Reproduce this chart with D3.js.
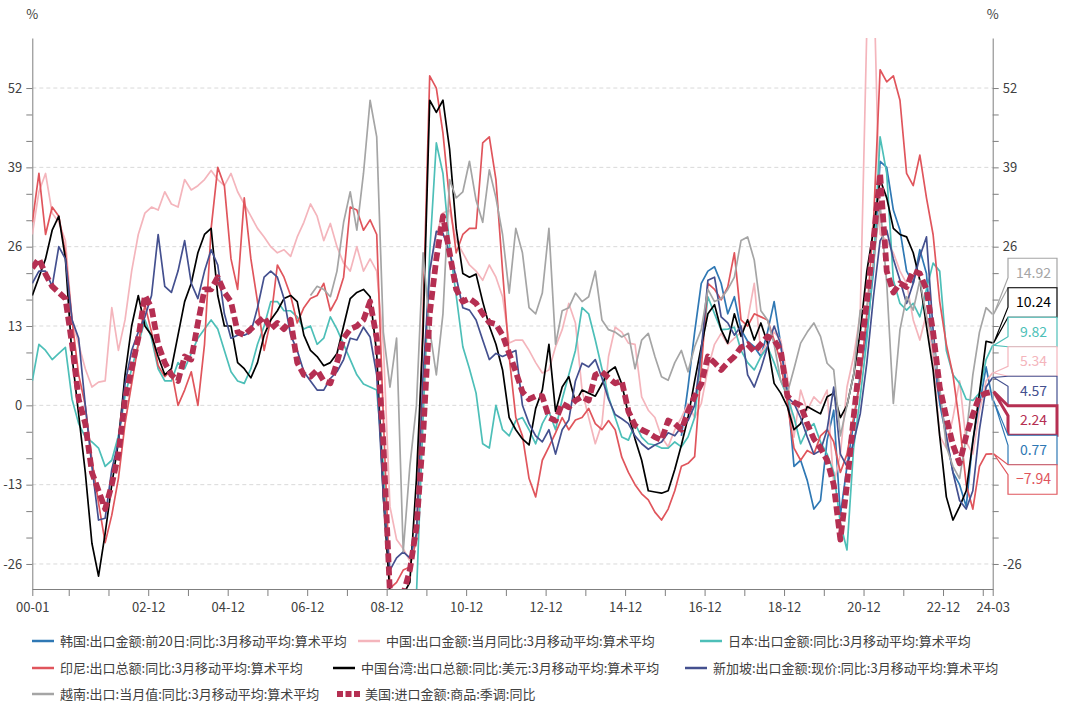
<!DOCTYPE html>
<html>
<head>
<meta charset="utf-8">
<script src="https://cdn.jsdelivr.net/npm/d3@7"></script>
<style>
  body { margin: 0; background: #fff; }
  svg { display: block; font-family: "Noto Sans CJK SC", "Noto Sans", sans-serif; }
</style>
</head>
<body>
<div id="chart"></div>
<script>
// ---- data: one value every 2 months (Jan, Mar, May, Jul, Sep, Nov), last point 2024-03 ----
const korea = [ // starts 2016-05
  -5, 3, 12, 20,
  22, 22.7, 20, 15, 17.8, 12.4,
  10.5, 9.6, 8, 12, 17, 10,
  2.5, -10, -9, -12.3, -17, -15.6,
  -5.7, -0.8, -18, -10, -3, 5,
  12, 22, 40, 39, 32, 28.7,
  22, 20, 25.5, 21.6, 8, 0.3,
  -5.2, -11, -13, -16.6, -5.7, 0,
  6.3, 0.77
];
const china = [
  28, 35, 38, 31.5, 30, 27,
  14, 10, 6, 3, 3.8, 4,
  16, 9, 14, 22, 28, 31.5,
  32.5, 32, 35, 33, 32.5, 37,
  35.3, 36, 37, 38.5, 37, 36,
  38, 35, 33, 31, 29, 27.6,
  26, 25, 25.5, 24.4, 27.6, 30,
  33, 31, 27, 29.8, 26, 23.3,
  22, 26, 22, 24, 22, 10,
  -16.6, -22, -23.5, -25.5, -22, -2,
  22, 28, 31.5, 32, 27, 25,
  23, 22, 20.5, 23, 21, 17.8,
  10.2, 10.7, 10.7, 9, 7, 5.3,
  5.8, 9.6, 12.4, 16.7, 13.5, 2.5,
  -2, -6.3, -3, 8, 12.8, 12,
  10.2, 10, 1.4, -0.8, -2, -5.2,
  -6.8, -4, -2, 0.3, -2, 0.3,
  6, 10, 11.8, 10, 11, 12,
  14, 20, 8.5, 10.2, 12, 10.7,
  4.7, -5.2, 2.5, -0.8, 1.4, 0.3,
  2.5, -13, -8, 3, 8, 15,
  62, 72, 28, 27, 25, 22,
  20, 14, 10.7, 15, 8, -5,
  -7, -2, 4, -6, -8, -1,
  4, 5.34
];
const japan = [
  4, 10, 9, 7.5, 8.5, 9.5,
  1, -3, -5.2, -6, -7, -10,
  -9, -5, 1.5, 6, 10, 14,
  11, 6, 4, 4, 7, 6,
  8.5, 11, 12.5, 14, 12.5, 9,
  5.5, 4, 3.6, 6, 10, 13,
  17, 17, 15.5, 15.5, 14.5, 12.5,
  13, 10, 11, 14.5, 12.5, 10,
  7.5, 5, 3.5, 3, 2.5, -10,
  -31, -31, -31, -31, -31, -2,
  25, 43, 38, 26, 18, 9.6,
  6, 2, -6.3, -7, 0, -4,
  -5, -2.5, -2, -4, -6.3, -3,
  -1, -4, 1, 5, 9, 16,
  15, 10.7, 6, 1.4, -2, -5.2,
  -5.7, -3, -5.2, -6.3, -6.5, -7,
  -7, -6, -6.8, -5.2, -2, 8,
  17.8, 15, 12.4, 12.5, 12.8, 9,
  7, 5.8, 8, 9.6, 7, 4,
  1.4, -2, -6.3, -4, -3, -6,
  -8, -11, -19.3, -23.7, -7, 1.4,
  10.7, 23.3, 44, 38, 20.5, 16.7,
  15.6, 16.7, 14.5, 19, 23.3, 22,
  9, 5, 3.6, 1, 0.8, 2,
  7.5, 9.82
];
const indonesia = [
  30, 38, 28, 32.5, 31, 25,
  14, 5, 0, -9, -16, -22.5,
  -18, -12, -3, 3.5, 10, 16.5,
  12, 6.5, 4.7, 5.8, 0, 2.5,
  5.5, 0, 10, 29, 39, 36,
  24, 19, 34, 24, 17, 9,
  14, 23, 21, 18, 13.5, 16,
  17.5, 18, 20, 15.5, 17.5, 21,
  32.5, 32, 28.7, 30.4, 28, -2,
  -30, -29, -27, -26.5, -22, 15,
  54, 52, 44.6, 33.6, 25, 28,
  29, 29, 43, 44, 37, 22,
  8, -2, -5, -12, -15, -9,
  -6.8, -4.5, -2, -4, -2.4, -2,
  -0.5, -3, -4, -2.5, -4, -8.5,
  -11, -13, -14.5, -15.5, -17.5, -18.8,
  -17, -14, -10, -9.5, -8.4, 6,
  20, 19, 17.3, 19.4, 25, 14,
  13, 15, 14.5, 14, 10.7, 7,
  0.3, -7, -9, -7.4, -8, -5,
  -4, -6, -11, -8, -2, 4,
  15, 30, 55, 53, 54, 50,
  38, 36, 41, 34, 28, 17,
  10, 5, -3, -13, -17, -10,
  -8, -7.94
];
const taiwan = [
  18, 21, 24, 28.7, 31, 24,
  8, -1.5, -11, -22.6, -28, -21,
  -13, -6, 5, 13, 18, 13,
  11.5, 8, 5, 6, 11.5, 17,
  20, 25, 28, 29, 18, 13,
  13, 7, 6, 4.5, 7, 11.5,
  14, 15.5, 17.5, 18, 17, 11.5,
  9, 8, 6.5, 7, 8.5, 13,
  17.5, 18.5, 19, 17.8, 8.5, -15,
  -31, -31, -31, -29, -12, 12,
  50, 48, 50, 42, 29, 21.6,
  21, 21.5, 17, 13, 10, 5.8,
  -2, -4, -5.5, -6.5, -0.5, 2.5,
  10, -1, 3, 4.7, 0.5, 2.5,
  2, 1.5, 3.5, 5.5, 6.3, 3.5,
  -1.5, -5.5, -9, -14, -14.2, -14.4,
  -14, -10.5, -6.5, -2, 4, 9.6,
  15, 16.5, 12.4, 10.2, 15, 11.3,
  14, 10.7, 13.5, 10.2, 3.6, 2,
  -0.2, -4, -3, -0.2, -0.8, -1.4,
  1.4, 2, -2, 0, 5, 12,
  22, 28.7, 37, 34, 29, 28,
  27.6, 25, 20.5, 13, 5.8, -5,
  -15, -18.8, -16.6, -14, -6, 2,
  10.5, 10.24
];
const singapore = [
  20, 22, 22, 19.5, 26, 24,
  14, 11, 0, -10, -18.8, -18.5,
  -10.5, -6, 3.5, 9, 12, 14.5,
  18, 28, 19.5, 18.5, 22, 27,
  20, 17.5, 22, 25.5, 23, 15,
  11, 11.5, 11.5, 12, 16, 21,
  22, 21, 17.5, 11.5, 9, 5.5,
  4, 2.5, 2.5, 4.4, 5.5, 7.5,
  11, 10.7, 12.8, 11.2, 5, -15,
  -27, -25, -24, -25, -21, 5,
  22, 28.5, 28.2, 25, 21, 16,
  15.6, 14, 10.7, 7.5, 8.5, 8,
  8.5, 9, 0, -3, -5, -6,
  -4, -8, -4, -2.4, 4, 6.9,
  6.3, 7.5, 4.5, 1, -1.5, -2.2,
  -3, -5, -6.3, -7.2, -6.5, -6,
  -4.5, -5, -3.5, -2.5, 0, 9,
  20.5, 21, 14.5, 13.5, 11.5, 13,
  5, 3, 6, 9.6, 13, 10,
  1.4, 0.3, -2, -5.2, -8, -7.4,
  -4, 3, -8, -10, -6, -1.4,
  7, 17.8, 27, 28.7, 24, 20.5,
  16.7, 20, 24.4, 27.6, 12.4, 1.4,
  -5, -11, -15.6, -17, -14, -4,
  3, 4.57
];
const vietnam = [ // starts 2007-01
  18, 19.5, 19, 17.8, 22, 30,
  35, 28.7, 38, 50, 44, 12,
  3, 11, -24, -10, 0, 25,
  12.4, 5, 15, 37, 34, 35,
  40, 33.6, 30, 38.6, 34, 28,
  18.4, 29, 25, 16, 15, 18.4,
  29, 10, 15.5, 16, 18.4, 17,
  17.8, 22, 14, 12.4, 12, 11.2,
  11.8, 6, 10.7, 11.8, 8, 4.7,
  4.1, 7, 9, 5.5, 9.6, 12.4,
  19, 17, 17.5, 19, 21, 27,
  27.6, 23.8, 15.5, 14, 10, 4,
  2, 6, 10.2, 12, 13.5, 11.3,
  6.9, 5.8, -5, 0, 5, 15.6,
  16.2, 23.3, 33, 20, 0.3, 12.4,
  17.8, 15.6, 20.5, 14.5, 10.7, 3,
  -6.8, -10, -12, -5, 5, 12,
  16, 14.92
];
const usImports = [
  22.5, 24, 21.5, 19.5, 18.5, 17.5,
  10, 1, -3, -11, -14, -17,
  -13, -8, 1, 6, 11, 18,
  16, 10, 7, 5, 4, 8,
  7.5, 13.5, 19, 19, 21, 18.5,
  17, 12, 11.5, 12.5, 13.5, 14.5,
  12.5, 13.5, 12.5, 14, 7, 5,
  4.7, 5.8, 4, 3.6, 7, 11,
  12.5, 13, 14, 17, 11, -6,
  -31, -31, -31, -27, -20, -5,
  15, 24, 31, 25, 19, 17,
  17.5, 16.7, 15, 13.6, 13.3, 11.5,
  8.5, 5.5, 2.2, 1, 1.5, 1.5,
  -2, -2.5, 0.3, -0.3, 0.8, 1.4,
  0.8, 5, 5.5, 4.5, 3.6, 4,
  -1, -3.3, -4, -4.5, -5.2, -5.7,
  -2.5, -3, -4, -1, 1.5, 3.5,
  8, 7, 5.8, 7, 8, 9.5,
  10, 8.8, 10, 11.3, 10.7, 9,
  1.5, 0.5, 0, -3, -5.5, -7,
  -9, -13, -22, -13, -2, 8,
  17, 27, 38, 22, 18.5, 20,
  19.4, 22, 21.6, 19, 12, 3,
  -2, -6.5, -9.5, -5, -1.5, 1.5,
  2, 2.24
];

const seriesNames = [
  "韩国:出口金额:前20日:同比:3月移动平均:算术平均",
  "中国:出口金额:当月同比:3月移动平均:算术平均",
  "日本:出口金额:同比:3月移动平均:算术平均",
  "印尼:出口总额:同比:3月移动平均:算术平均",
  "中国台湾:出口总额:同比:美元:3月移动平均:算术平均",
  "新加坡:出口金额:现价:同比:3月移动平均:算术平均",
  "越南:出口:当月值:同比:3月移动平均:算术平均",
  "美国:进口金额:商品:季调:同比"
];
const seriesStarts = ["2016-05", "2000-01", "2000-01", "2000-01", "2000-01", "2000-01", "2007-01", "2000-01"];
const seriesValues = [korea, china, japan, indonesia, taiwan, singapore, vietnam, usImports];
const seriesColors = ["#2f78b4", "#f4b5bc", "#4dbfb8", "#e0555c", "#000000", "#44508f", "#a5a5a5", "#b52f52"];

const yMajorTicks = [-26, -13, 0, 13, 26, 39, 52];
const xTickLabels = ["00-01", "02-12", "04-12", "06-12", "08-12", "10-12", "12-12", "14-12", "16-12", "18-12", "20-12", "22-12", "24-03"];
const xYearEnds = ["00-12", "01-12", "02-12", "03-12", "04-12", "05-12", "06-12", "07-12", "08-12", "09-12", "10-12", "11-12",
                   "12-12", "13-12", "14-12", "15-12", "16-12", "17-12", "18-12", "19-12", "20-12", "21-12", "22-12", "23-12"];

// ---- helpers ----
const W = 1067, H = 704;
const monthIdx = s => { const [a, b] = s.split("-").map(Number); return (a < 100 ? a : a - 2000) * 12 + b - 1; };
const STEP = 2;
const lastMonth = monthIdx("24-03");

const series = seriesNames.map((name, i) => {
  const s0 = monthIdx(seriesStarts[i]);
  return {
    name, color: seriesColors[i],
    points: seriesValues[i].map((v, j) => ({m: s0 + j * STEP, v}))
  };
});

const x = d3.scaleLinear().domain([0, lastMonth]).range([32.3, 992.7]);
const y = d3.scaleLinear().domain([-30.1, 60.2]).range([589, 38]);

const svg = d3.select("#chart").append("svg").attr("width", W).attr("height", H);

// end label layout (sorted by last value)
const ends = series.map((s, i) => ({i, color: s.color, v: s.points[s.points.length - 1].v}))
  .sort((a, b) => b.v - a.v);
const bx = 1008, bw = 49, bh = 29.5, firstCy = 273;
const boxTop = firstCy - bh / 2, boxBot = firstCy + (ends.length - 0.5) * bh;

// grid
svg.append("g")
  .selectAll("line").data(yMajorTicks).join("line")
    .attr("x1", x(0)).attr("x2", x(lastMonth))
    .attr("y1", d => y(d)).attr("y2", d => y(d))
    .attr("stroke", "#d9d9d9").attr("stroke-dasharray", "4,3");

// axes
const yTickVals = d3.range(0, 19).map(i => -26 + i * 13 / 3);
const isMajor = d => { const r = Math.round(d); return Math.abs(d - r) < 1e-6 && r % 13 === 0; };
const yFmt = d => isMajor(d) ? Math.round(d) : "";
// right-hand labels that sit under the value boxes are not drawn
const yFmtR = d => isMajor(d) && (y(d) < boxTop - 6 || y(d) > boxBot + 6) ? Math.round(d) : "";

const styleAxis = g => {
  g.select(".domain").attr("stroke", "#7f7f7f");
  g.selectAll(".tick line").attr("stroke", "#7f7f7f");
  g.selectAll(".tick text").attr("fill", "#404040").style("font-size", "13px")
    .style("font-family", '"Noto Sans CJK SC", "Noto Sans", sans-serif');
};

svg.append("g").attr("transform", `translate(${x(0)},0)`)
  .call(d3.axisLeft(y).tickValues(yTickVals).tickSize(6).tickSizeOuter(0).tickPadding(4).tickFormat(yFmt))
  .call(styleAxis);

svg.append("g").attr("transform", `translate(${x(lastMonth)},0)`)
  .call(d3.axisRight(y).tickValues(yTickVals).tickSize(6).tickSizeOuter(0).tickPadding(4).tickFormat(yFmtR))
  .call(styleAxis);

const xTickVals = [0, ...xYearEnds.map(monthIdx), lastMonth];
const xLabelMap = new Map(xTickLabels.map(s => [monthIdx(s), s]));
svg.append("g").attr("transform", `translate(0,${y.range()[0]})`)
  .call(d3.axisBottom(x).tickValues(xTickVals).tickSize(7).tickSizeOuter(0).tickPadding(7)
    .tickFormat(d => xLabelMap.get(d) || ""))
  .call(styleAxis);

svg.selectAll(".pct").data([x(0), x(lastMonth)]).join("text")
  .attr("x", d => d).attr("y", 19).attr("text-anchor", "middle")
  .attr("fill", "#404040").style("font-size", "13px").text("%");

// lines
svg.append("clipPath").attr("id", "plot")
  .append("rect").attr("x", x(0)).attr("y", y.range()[1])
  .attr("width", x(lastMonth) - x(0)).attr("height", y.range()[0] - y.range()[1]);

const line = d3.line().defined(d => d.v != null).x(d => x(d.m)).y(d => y(d.v));

const gLines = svg.append("g").attr("clip-path", "url(#plot)").attr("fill", "none")
  .attr("stroke-linejoin", "round");

gLines.selectAll("path")
  .data(series)
  .join("path")
    .attr("d", d => line(d.points))
    .attr("stroke", d => d.color)
    .attr("stroke-width", (d, i) => i === 7 ? 5.8 : 1.7)
    .attr("stroke-dasharray", (d, i) => i === 7 ? "9,4" : null);

// end labels
const gLab = svg.append("g");
ends.forEach((d, k) => {
  const cy = firstCy + k * bh, top = cy - bh / 2, bot = cy + bh / 2;
  const yv = y(d.v);
  const tb = Math.max(top + 5, Math.min(bot - 5, yv));
  const p = d3.path();
  p.moveTo(bx, top); p.lineTo(bx + bw, top); p.lineTo(bx + bw, bot); p.lineTo(bx, bot);
  p.lineTo(bx, tb + 5); p.lineTo(x(lastMonth) + 1, yv); p.lineTo(bx, tb - 5); p.closePath();
  gLab.append("path").attr("d", p.toString())
    .attr("fill", "#fff").attr("stroke", d.color)
    .attr("stroke-width", d.i === 7 ? 3 : 1.2);
  gLab.append("text").attr("x", bx + bw / 2 + 1).attr("y", cy).attr("dy", "0.35em")
    .attr("text-anchor", "middle").attr("fill", d.color)
    .style("font-size", "14px").text(d3.format(".2f")(d.v));
});

// legend
const legendPos = [[32, 641], [358, 641], [700, 641], [32, 668], [333, 668], [685, 668], [32, 694], [337, 694]];
const gLeg = svg.append("g");
series.forEach((s, i) => {
  const [lx, ly] = legendPos[i];
  if (i === 7) {
    gLeg.selectAll(".usSw").data([0, 1, 2]).join("rect")
      .attr("x", k => lx + k * 8.5).attr("y", ly - 3).attr("width", 6).attr("height", 6)
      .attr("fill", s.color);
  } else {
    gLeg.append("line").attr("x1", lx).attr("x2", lx + 22).attr("y1", ly).attr("y2", ly)
      .attr("stroke", s.color).attr("stroke-width", 2.5);
  }
  gLeg.append("text").attr("x", lx + 28).attr("y", ly).attr("dy", "0.35em")
    .attr("fill", "#404040").style("font-size", "13px").text(s.name);
});
</script>
</body>
</html>
